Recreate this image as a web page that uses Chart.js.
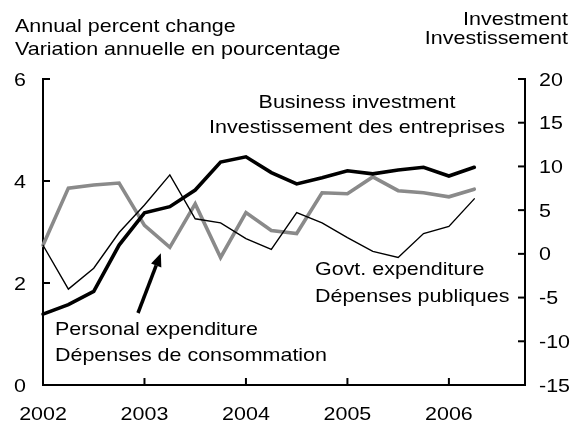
<!DOCTYPE html>
<html>
<head>
<meta charset="utf-8">
<script src="https://cdn.jsdelivr.net/npm/chart.js@4"></script>
<style>
  body { margin: 0; background: #fff; }
  #wrap { width: 577px; height: 423px; }
</style>
</head>
<body>
<div id="wrap"><canvas id="chart" width="577" height="423"></canvas></div>
<script>
// quarterly categories, 2002Q1 .. 2006Q4
var quarters = ['2002Q1', '2002Q2', '2002Q3', '2002Q4',
                '2003Q1', '2003Q2', '2003Q3', '2003Q4',
                '2004Q1', '2004Q2', '2004Q3', '2004Q4',
                '2005Q1', '2005Q2', '2005Q3', '2005Q4',
                '2006Q1', '2006Q2', '2006Q3', '2006Q4'];
var years = ['2002', '2003', '2004', '2005', '2006'];
var leftTicks = [0, 2, 4, 6];
var rightTicks = [-15, -10, -5, 0, 5, 10, 15, 20];

// annual percent change (left axis)
var personal = [2.74, 3.86, 3.92, 3.96, 3.13, 2.70, 3.55, 2.50, 3.38, 3.03, 2.97, 3.77, 3.75, 4.08, 3.81, 3.77, 3.69, 3.84];
var govt = [2.74, 1.88, 2.29, 2.99, 3.53, 4.12, 3.26, 3.18, 2.87, 2.66, 3.38, 3.18, 2.89, 2.62, 2.50, 2.97, 3.11, 3.65];
// investment (right axis)
var business = [-6.9, -5.8, -4.3, 1.0, 4.7, 5.4, 7.3, 10.5, 11.1, 9.3, 8.0, 8.7, 9.5, 9.15, 9.6, 9.9, 8.9, 9.9];

var FONT = '18.5px "Liberation Sans", Arial, sans-serif';
var SX = 1.16; // the original text is drawn a bit wide

function txt(ctx, s, x, y, align) {
  ctx.save();
  ctx.translate(x, y);
  ctx.scale(SX, 1);
  ctx.textAlign = align || 'left';
  ctx.textBaseline = 'alphabetic';
  ctx.fillText(s, 0, 0);
  ctx.restore();
}

var annotate = {
  id: 'annotate',
  afterDraw: function(chart) {
    var ctx = chart.ctx;
    var a = chart.chartArea;
    var sx = chart.scales.x, sy = chart.scales.y, sy1 = chart.scales.y1;
    ctx.save();
    ctx.strokeStyle = '#000';
    ctx.fillStyle = '#000';
    ctx.lineWidth = 2;
    ctx.font = FONT;

    // inward tick marks and labels
    leftTicks.forEach(function(v) {
      var y = sy.getPixelForValue(v);
      ctx.beginPath(); ctx.moveTo(a.left, y); ctx.lineTo(a.left + 7, y); ctx.stroke();
      txt(ctx, String(v), 26, y + 6.6, 'right');
    });
    rightTicks.forEach(function(v) {
      var y = sy1.getPixelForValue(v);
      ctx.beginPath(); ctx.moveTo(a.right - 7, y); ctx.lineTo(a.right, y); ctx.stroke();
      txt(ctx, String(v), 539, y + 6.6, 'left');
    });
    years.forEach(function(yr) {
      var x = sx.getPixelForValue(quarters.indexOf(yr + 'Q1'));
      ctx.beginPath(); ctx.moveTo(x, a.bottom - 7); ctx.lineTo(x, a.bottom); ctx.stroke();
      txt(ctx, yr, x, 420, 'center');
    });

    // axis titles
    txt(ctx, 'Annual percent change', 15, 32, 'left');
    txt(ctx, 'Variation annuelle en pourcentage', 15, 55, 'left');
    txt(ctx, 'Investment', 568, 25, 'right');
    txt(ctx, 'Investissement', 568, 44, 'right');

    // series labels
    txt(ctx, 'Business investment', 357, 108, 'center');
    txt(ctx, 'Investissement des entreprises', 357, 133, 'center');
    txt(ctx, 'Govt. expenditure', 315, 275, 'left');
    txt(ctx, 'Dépenses publiques', 315, 302, 'left');
    txt(ctx, 'Personal expenditure', 55, 335, 'left');
    txt(ctx, 'Dépenses de consommation', 55, 361, 'left');

    // arrow to the personal expenditure line
    var px = sx.getPixelForValue(5), py = sy.getPixelForValue(personal[5]);
    var tip = [px - 9, py + 6], tail = [138, 313];
    var ang = Math.atan2(tip[1] - tail[1], tip[0] - tail[0]);
    var hl = 13, hw = 5.5;
    var bx = tip[0] - hl * Math.cos(ang), by = tip[1] - hl * Math.sin(ang);
    ctx.lineWidth = 3.5;
    ctx.beginPath(); ctx.moveTo(tail[0], tail[1]); ctx.lineTo(bx, by); ctx.stroke();
    ctx.beginPath();
    ctx.moveTo(tip[0], tip[1]);
    ctx.lineTo(bx + hw * Math.sin(ang), by - hw * Math.cos(ang));
    ctx.lineTo(bx - hw * Math.sin(ang), by + hw * Math.cos(ang));
    ctx.closePath(); ctx.fill();
    ctx.restore();
  }
};

var ctx = document.getElementById('chart').getContext('2d');
var chart = new Chart(ctx, {
  type: 'line',
  data: {
    labels: quarters,
    datasets: [
      { label: 'Govt. expenditure', data: govt, yAxisID: 'y',
        borderColor: '#000', borderWidth: 1.4, order: 1 },
      { label: 'Business investment', data: business, yAxisID: 'y1',
        borderColor: '#000', borderWidth: 3.6, order: 2 },
      { label: 'Personal expenditure', data: personal, yAxisID: 'y',
        borderColor: '#8a8a8a', borderWidth: 3.6, order: 3 }
    ]
  },
  options: {
    responsive: false,
    animation: false,
    layout: { padding: { left: 43, right: 52, top: 79, bottom: 38 } },
    elements: { point: { radius: 0 }, line: { tension: 0, borderCapStyle: 'round', borderJoinStyle: 'miter' } },
    plugins: { legend: { display: false }, tooltip: { enabled: false } },
    scales: {
      x: {
        type: 'category', offset: false,
        grid: { display: false, drawTicks: false },
        ticks: { display: false },
        border: { color: '#000', width: 2 }
      },
      y: {
        position: 'left', min: 0, max: 6,
        grid: { display: false, drawTicks: false },
        ticks: { display: false, stepSize: 2 },
        border: { color: '#000', width: 2 }
      },
      y1: {
        position: 'right', min: -15, max: 20,
        grid: { display: false, drawTicks: false },
        ticks: { display: false, stepSize: 5 },
        border: { color: '#000', width: 2 }
      }
    }
  },
  plugins: [annotate]
});
</script>
</body>
</html>
